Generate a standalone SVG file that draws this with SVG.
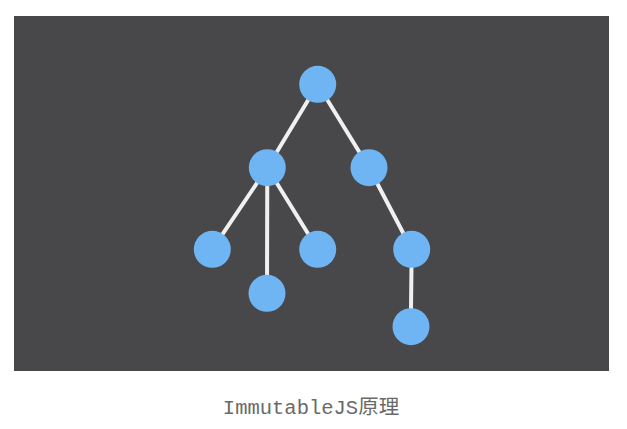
<svg xmlns="http://www.w3.org/2000/svg" width="627" height="429" viewBox="0 0 627 429">
<style>
.node{fill:#6FB4F3}
.edge{stroke:#F0F0F0;stroke-width:4;stroke-linecap:round}
.cap{font-family:"Liberation Mono","Noto Sans CJK SC",monospace;font-size:20.5px;fill:#6a6a6a}
</style>
<rect x="0" y="0" width="627" height="429" fill="#ffffff"/>
<rect x="14" y="16" width="595" height="355" fill="#48474A"/>
<g id="connectors">
<line class="edge" x1="317.7" y1="84.3" x2="267.3" y2="167.7"/>
<line class="edge" x1="317.7" y1="84.3" x2="369" y2="167.7"/>
<line class="edge" x1="267.3" y1="167.7" x2="212.3" y2="249.3"/>
<line class="edge" x1="267.3" y1="167.7" x2="267" y2="293.3"/>
<line class="edge" x1="267.3" y1="167.7" x2="317.7" y2="249.3"/>
<line class="edge" x1="369" y1="167.7" x2="411.7" y2="249.3"/>
<line class="edge" x1="411.7" y1="249.3" x2="410.8" y2="326.7"/>
</g>
<g id="n-root"><circle class="node" cx="317.7" cy="84.3" r="18.5"/></g>
<g id="n-left"><circle class="node" cx="267.3" cy="167.7" r="18.5"/></g>
<g id="n-right"><circle class="node" cx="369" cy="167.7" r="18.5"/></g>
<g id="n-leaf1"><circle class="node" cx="212.3" cy="249.3" r="18.5"/></g>
<g id="n-leaf2"><circle class="node" cx="267" cy="293.3" r="18.5"/></g>
<g id="n-leaf3"><circle class="node" cx="317.7" cy="249.3" r="18.5"/></g>
<g id="n-right2"><circle class="node" cx="411.7" cy="249.3" r="18.5"/></g>
<g id="n-right3"><circle class="node" cx="411" cy="326.7" r="18.5"/></g>
<text class="cap" x="311" y="414" text-anchor="middle">ImmutableJS原理</text>
</svg>
